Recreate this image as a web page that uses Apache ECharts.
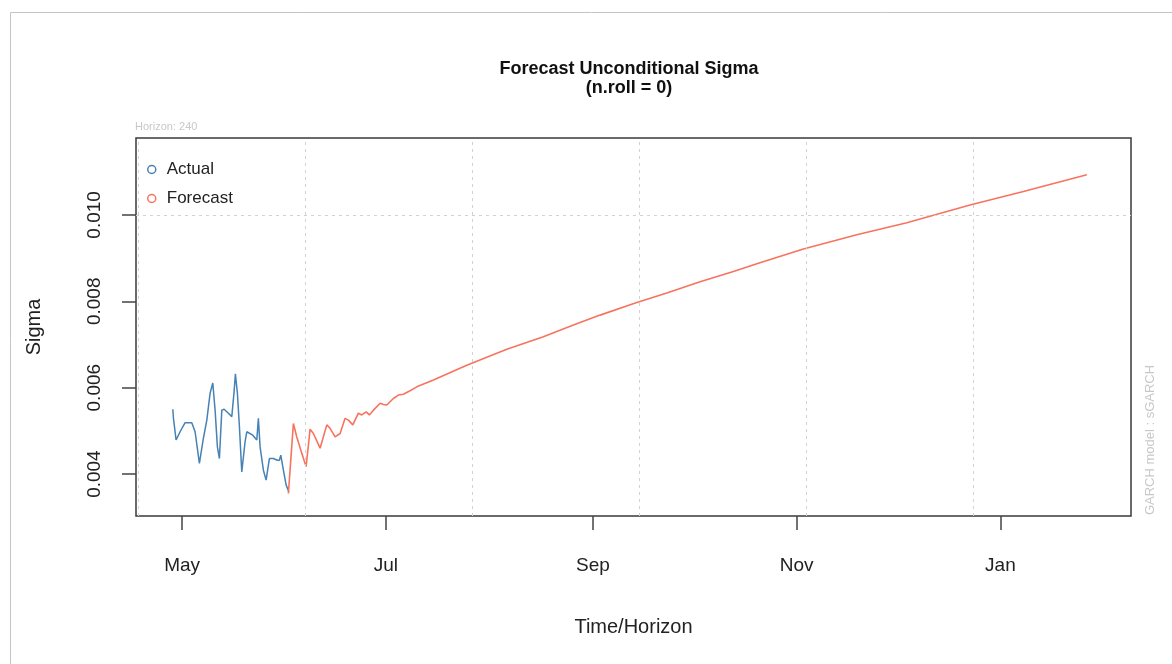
<!DOCTYPE html>
<html lang="en">
<head>
  <meta charset="UTF-8">
  <title>Forecast Unconditional Sigma</title>
  <script src="https://cdn.jsdelivr.net/npm/echarts@6/dist/echarts.min.js"></script>
</head>
<style>
  * {
    padding: 0px;
    margin: 0px;
  }
</style>
<body>
<div id="main" style="width:1172px;height:664px;"></div>
</body>
</html>
<script>
  // x = days after 1 May
  var tickDays = [0, 61, 123, 184, 245];
  var tickLabels = ['May', 'Jul', 'Sep', 'Nov', 'Jan'];
  var gridDays = [-13, 37, 87, 137, 187, 237];
  var sigmaTicks = [0.004, 0.006, 0.008, 0.010];

  var actualDays = [-2.78, -2.60, -1.80, -0.60, 0.90, 2.90, 3.89, 5.18, 6.38, 7.40, 8.38, 9.19, 9.88, 10.57,
    11.17, 11.89, 12.57, 13.86, 14.88, 15.57, 15.96, 16.56, 17.16, 17.87, 18.86, 19.37, 21.17, 22.37,
    22.84, 23.35, 24.34, 25.15, 26.14, 27.34, 28.53, 29.13, 29.55, 30.33, 31.14, 31.95];
  var actualSigma = [0.00550, 0.00530, 0.00479, 0.00498, 0.00519, 0.00519, 0.00498, 0.00425, 0.00483, 0.00525,
    0.00587, 0.00611, 0.00548, 0.00463, 0.00436, 0.00548, 0.00550, 0.00541, 0.00533, 0.00591, 0.00632,
    0.00587, 0.00510, 0.00405, 0.00475, 0.00498, 0.00490, 0.00479, 0.00529, 0.00463, 0.00409, 0.00386,
    0.00436, 0.00436, 0.00432, 0.00432, 0.00444, 0.00409, 0.00375, 0.00359];

  var forecastDays = [31.83, 33.32, 34.34, 35.84, 37.13, 38.32, 39.31, 41.32, 43.32, 44.31, 45.81, 47.31,
    48.80, 49.79, 51.11, 52.78, 53.80, 55.09, 56.08, 57.28, 59.28, 60.27, 61.29, 63.26, 64.76, 66.26,
    68.26, 70.27, 75.24, 85.24, 97.22, 108.17, 117.16, 125.15, 136.14, 145.12, 155.09, 165.06, 172.54,
    186.02, 202.0, 216.98, 235.9, 251.89, 270.87];
  var forecastSigma = [0.00355, 0.00517, 0.00486, 0.00448, 0.00417, 0.00504, 0.00494, 0.00460, 0.00514,
    0.00506, 0.00486, 0.00494, 0.00529, 0.00525, 0.00514, 0.00541, 0.00537, 0.00544, 0.00537, 0.00548,
    0.00564, 0.00561, 0.00560, 0.00575, 0.00583, 0.00585, 0.00593, 0.00602, 0.00618, 0.00652, 0.00689,
    0.00718, 0.00745, 0.00768, 0.00797, 0.00819, 0.00845, 0.00869, 0.00888, 0.00921, 0.00954, 0.00982,
    0.01023, 0.01054, 0.01093];

  function pairs(xs, ys) {
    return xs.map(function (x, i) { return [x, ys[i]]; });
  }

  var font = 'Liberation Sans, Arial, sans-serif';
  var actualColor = '#4682B4';
  var forecastColor = '#F8735E';
  var gridLine = {color: '#d2d2d2', width: 1, type: [3, 4]};

  var chart = echarts.init(document.getElementById('main'));
  chart.setOption({
    backgroundColor: '#fff',
    animation: false,
    textStyle: {fontFamily: font},
    title: {
      text: 'Forecast Unconditional Sigma\n(n.roll = 0)',
      left: 624,
      top: 55,
      textAlign: 'center',
      textStyle: {fontSize: 18, fontWeight: 'bold', color: '#111', lineHeight: 19, fontFamily: font}
    },
    graphic: [
      {type: 'rect', silent: true, shape: {x: 10.5, y: 12.5, width: 1300, height: 800},
        style: {fill: 'none', stroke: '#c4c4c4', lineWidth: 1}},
      {type: 'text', x: 135, y: 127, silent: true,
        style: {text: 'Horizon: 240', fill: '#c8c8c8', fontSize: 11, fontFamily: font, verticalAlign: 'middle'}},
      {type: 'text', x: 1150, y: 440, rotation: Math.PI / 2, silent: true,
        style: {text: 'GARCH model : sGARCH', fill: '#c8c8c8', fontSize: 13, fontFamily: font,
          align: 'center', verticalAlign: 'middle'}}
    ],
    legend: {
      orient: 'vertical',
      left: 142,
      top: 156,
      itemGap: 12,
      itemWidth: 8,
      itemHeight: 8,
      textStyle: {fontSize: 17, color: '#222', fontFamily: font, padding: [0, 0, 0, 6]},
      data: [
        {name: 'Actual', icon: 'circle',
          itemStyle: {color: 'rgba(0,0,0,0)', borderColor: actualColor, borderWidth: 1.5}},
        {name: 'Forecast', icon: 'circle',
          itemStyle: {color: 'rgba(0,0,0,0)', borderColor: forecastColor, borderWidth: 1.5}}
      ]
    },
    grid: {
      left: 136,
      right: 41,
      top: 138,
      bottom: 148,
      show: true,
      borderColor: '#3a3a3a',
      borderWidth: 1.5
    },
    xAxis: {
      type: 'value',
      min: -13.8,
      max: 284.1,
      name: 'Time/Horizon',
      nameLocation: 'middle',
      nameGap: 101,
      nameTextStyle: {fontSize: 20, color: '#222'},
      axisLine: {show: false, onZero: false},
      axisTick: {show: true, length: 14, customValues: tickDays, lineStyle: {color: '#444', width: 1.5}},
      axisLabel: {
        customValues: tickDays,
        margin: 40,
        fontSize: 19,
        color: '#222',
        formatter: function (v) { return tickLabels[tickDays.indexOf(v)]; }
      },
      splitLine: {show: false}
    },
    yAxis: {
      type: 'value',
      min: 0.00303,
      max: 0.01178,
      name: 'Sigma',
      nameLocation: 'middle',
      nameGap: 92,
      nameRotate: 90,
      nameTextStyle: {fontSize: 20, color: '#222'},
      axisLine: {show: false, onZero: false},
      axisTick: {show: true, length: 14, customValues: sigmaTicks, lineStyle: {color: '#444', width: 1.5}},
      axisLabel: {
        customValues: sigmaTicks,
        rotate: 90,
        margin: 32,
        fontSize: 19,
        color: '#222',
        formatter: function (v) { return v.toFixed(3); }
      },
      splitLine: {show: false}
    },
    series: [
      {
        name: 'Actual',
        type: 'line',
        data: pairs(actualDays, actualSigma),
        showSymbol: false,
        lineStyle: {color: actualColor, width: 1.5},
        itemStyle: {color: actualColor},
        z: 3,
        markLine: {
          silent: true,
          symbol: ['none', 'none'],
          label: {show: false},
          lineStyle: gridLine,
          data: gridDays.map(function (d) { return {xAxis: d}; })
            .concat(sigmaTicks.map(function (s) { return {yAxis: s}; }))
        }
      },
      {
        name: 'Forecast',
        type: 'line',
        data: pairs(forecastDays, forecastSigma),
        showSymbol: false,
        lineStyle: {color: forecastColor, width: 1.6},
        itemStyle: {color: forecastColor},
        z: 3
      }
    ]
  });
</script>
